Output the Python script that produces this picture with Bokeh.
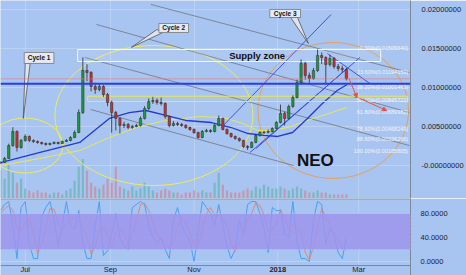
from bokeh.plotting import figure
from bokeh.layouts import column
from bokeh.models import (Range1d, FixedTicker, Span, Label, Arrow, NormalHead,
                          ColumnDataSource, BoxAnnotation, PrintfTickFormatter)
from bokeh.core.properties import value
from bokeh.embed import file_html
from bokeh.resources import INLINE

BG = "#a8c4f0"
FONT = "Liberation Sans"

# ---- candle data (3-day candles, x = days since 2017-07-01) ----
days = list(range(-18, 235, 3))
closes = [0.00038,0.00090,0.00256,0.00436,0.00231,0.00321,0.00372,0.00321,0.00308,0.00295,
          0.00282,0.00269,0.00282,0.00295,0.00282,0.00308,0.00321,0.00359,0.00423,0.00679,
          0.01218,0.01192,0.01013,0.00974,0.01013,0.00910,0.00808,0.00679,0.00603,0.00513,
          0.00526,0.00487,0.00500,0.00513,0.00603,0.00731,0.00820,0.00833,0.00808,0.00795,
          0.00628,0.00513,0.00538,0.00526,0.00513,0.00487,0.00462,0.00423,0.00359,0.00436,
          0.00449,0.00436,0.00513,0.00603,0.00462,0.00410,0.00372,0.00346,0.00321,0.00244,
          0.00231,0.00295,0.00385,0.00423,0.00426,0.00436,0.00474,0.00551,0.00667,0.00603,
          0.00756,0.00872,0.01064,0.01308,0.01154,0.01115,0.01218,0.01410,0.01385,0.01295,
          0.01372,0.01269,0.01244,0.01231,0.01110777]
highs = [0.00055,0.00110,0.00280,0.00490,0.00450,0.00340,0.00400,0.00385,0.00335,0.00320,
         0.00305,0.00295,0.00295,0.00310,0.00305,0.00320,0.00340,0.00375,0.00450,0.00720,
         0.01385,0.01300,0.01210,0.01060,0.01050,0.01030,0.00930,0.00830,0.00700,0.00620,
         0.00560,0.00545,0.00520,0.00535,0.00630,0.00760,0.00860,0.00880,0.00860,0.00870,
         0.00810,0.00640,0.00570,0.00560,0.00545,0.00530,0.00500,0.00475,0.00435,0.00455,
         0.00470,0.00465,0.00530,0.00640,0.00615,0.00475,0.00420,0.00385,0.00360,0.00330,
         0.00260,0.00310,0.00400,0.00440,0.00445,0.00460,0.00490,0.00570,0.00780,0.00690,
         0.00780,0.00900,0.01100,0.01360,0.01330,0.01190,0.01250,0.01487,0.01450,0.01400,
         0.01420,0.01390,0.01300,0.01280,0.01250]
lows = [0.00020,0.00032,0.00085,0.00240,0.00180,0.00215,0.00305,0.00300,0.00290,0.00280,
        0.00265,0.00255,0.00258,0.00272,0.00270,0.00275,0.00300,0.00310,0.00350,0.00415,
        0.00660,0.01080,0.00950,0.00920,0.00950,0.00880,0.00760,0.00420,0.00450,0.00410,
        0.00480,0.00465,0.00470,0.00490,0.00500,0.00590,0.00710,0.00790,0.00780,0.00770,
        0.00600,0.00490,0.00500,0.00505,0.00495,0.00470,0.00445,0.00405,0.00345,0.00350,
        0.00425,0.00420,0.00425,0.00500,0.00450,0.00395,0.00355,0.00330,0.00305,0.00225,
        0.00200,0.00222,0.00285,0.00370,0.00405,0.00410,0.00425,0.00465,0.00540,0.00513,
        0.00590,0.00740,0.00860,0.01040,0.01100,0.01060,0.01100,0.01200,0.01300,0.01040,
        0.01270,0.01240,0.01210,0.01190,0.01090]
first_open = 0.00030
volumes = [14,10,17,13,8,10,5,4,3,4,3,3,2,3,3,2,4,5,9,16,20,14,8,6,5,7,10,8,16,6,
           5,4,6,4,5,8,6,4,3,4,5,4,3,3,2,3,3,4,3,4,3,3,8,13,7,4,3,3,3,4,
           5,4,6,5,7,6,5,5,6,5,4,5,6,5,4,3,3,4,3,3,2,2,2,2,2]
stoch_k = [85,95,100,60,5,90,100,30,5,5,75,90,100,70,25,60,100,60,55,85,
           30,5,5,60,100,10,18,45,80,40,25,20,90,95,100,95,60,40,30,40,
           20,5,70,90,60,45,35,0,50,100,90,80,60,95,60,25,5,20,70,45,
           95,100,100,80,55,15,90,85,85,45,40,100,35,5,5,0,70,100,95,30,
           55,45,15,5,40]
stoch_d = [80,88,93,85,55,52,65,73,45,13,28,57,88,87,65,52,62,73,72,67,
           57,40,13,23,55,57,43,24,48,55,48,28,45,68,95,97,85,65,43,37,
           30,22,32,55,73,65,47,27,28,50,80,90,77,78,72,60,30,17,32,45,
           70,80,98,93,78,50,53,63,87,72,57,62,58,47,15,3,25,57,88,75,
           60,43,38,22,20]

# ---- axis ticks ----
month_ticks = [0, 62, 123, 184, 243]
month_labels = ["Jul", "Sep", "Nov", "2018", "Mar"]
month_bold = [False, False, False, True, False]
price_ticks = [-1e-12, 0.005, 0.01, 0.015, 0.02]
osc_ticks = [0, 40, 80]

# ---- drawings (day, price) ----
ma_days = [-18.0,10.8,39.7,50.5,61.3,75.8,88.0,102.5,116.9,135.6,150.1,162.3,173.9,184.0,194.8,205.6,216.5,227.3,234.5]
ma_vals = [0.00038,0.00167,0.00295,0.00449,0.00603,0.00679,0.00705,0.00641,0.00577,0.00551,0.00487,0.00410,0.00385,0.00372,0.00423,0.00603,0.00795,0.00962,0.01038]
wave_days = [-18.0,10.8,39.7,61.3,83.0,102.5,126.3,144.3,158.7,169.6,180.4,191.2,210.0,234.5]
wave_vals = [0.0,0.00090,0.00192,0.00359,0.00500,0.00577,0.00628,0.00615,0.00538,0.00449,0.00449,0.00487,0.00603,0.00744]
gray_x0 = [91.6, 51.9, 43.3, 47.6]
gray_y0 = [0.02064, 0.01808, 0.01385, 0.00718]
gray_x1 = [279.9, 279.9, 279.9, 195.5]
gray_y1 = [0.01192, 0.00679, 0.00256, 0.0]
blue_x0 = [142.9, 163.8, 168.1, 220.1]
blue_y0 = [0.00487, 0.00167, 0.00218, 0.01436]
blue_x1 = [222.9, 243.9, 234.5, 251.1]
blue_y1 = [0.01936, 0.01385, 0.01244, 0.01051]
ell_x = [0.0, 93.8]
ell_y = [0.00256, 0.00641]
ell_w = [54.8, 144.3]
ell_h = [0.00705, 0.01795]
cyc3 = dict(x=224.4, y=0.00705, w=109.7, h=0.01744)
supply = dict(left=38.2, right=259.0, top=0.01487, bottom=0.01333)
yellow_box = dict(left=45.5, right=278.5, top=0.00888, bottom=0.00820)
fib_pct = ["0.00%", "23.60%", "38.20%", "50.00%", "61.80%", "78.60%", "88.60%", "100.00%"]
fib_vals = [0.01505640, 0.01194159, 0.01001463, 0.00845722, 0.00689982, 0.00468249, 0.00336266, 0.00185805]
cyc_names = ["Cycle 1", "Cycle 2", "Cycle 3"]
cyc_left = [-0.7, 97.4, 178.2]
cyc_right = [20.9, 119.0, 200.6]
cyc_top = [0.01449, 0.01820, 0.02000]
cyc_bottom = [0.01308, 0.01705, 0.01897]
cyc_tx = [10.1, 108.2, 189.4]
cyc_ty = [0.01378, 0.01763, 0.01949]
ptr_xs = [[0.0, 3.6, -1.4], [96.0, 100.3, 77.2], [193.4, 198.4, 206.3]]
ptr_ys = [[0.01308, 0.01308, 0.00603], [0.01743, 0.01705, 0.01513], [0.01897, 0.01897, 0.01564]]
arrows = [(235.9, 0.01115, 241.7, 0.00872), (243.9, 0.00859, 263.3, 0.00705)]
last_price = 0.01110777
blue_level = 0.01048311

# ---- derived candle fields ----
opens = [first_open] + closes[:-1]
up = [c >= o for o, c in zip(opens, closes)]
src = ColumnDataSource(dict(
    x=days, o=opens, c=closes, h=highs, l=lows,
    top=[max(o, c) for o, c in zip(opens, closes)],
    bot=[min(o, c) for o, c in zip(opens, closes)],
    col=["#1f9a3a" if u else "#c8322f" for u in up],
    vcol=["#3fae8c" if u else "#e06666" for u in up],
    vol=volumes))

x_rng = Range1d(-18.0, 280.7)

p1 = figure(width=466, height=198, x_range=x_rng, y_range=Range1d(-0.00423, 0.02115),
            output_backend="svg", toolbar_location=None, y_axis_location="right",
            min_border_left=0, min_border_right=52, min_border_top=0, min_border_bottom=0,
            background_fill_color=BG, border_fill_color=BG, outline_line_color=None)
p1.xaxis.visible = False
p1.xgrid.ticker = FixedTicker(ticks=month_ticks)
p1.grid.grid_line_color = "#ffffff"
p1.grid.grid_line_alpha = 0.22
ya = p1.yaxis[0]
ya.ticker = FixedTicker(ticks=price_ticks)
ya.formatter = PrintfTickFormatter(format="%.8f")
ya.major_tick_line_color = None
ya.minor_tick_line_color = None
ya.axis_line_color = "#7d8898"
ya.major_label_text_font = FONT
ya.major_label_text_font_size = "7.5px"
ya.major_label_text_color = "#222222"
ya.major_label_standoff = 5
p1.extra_y_ranges = {"vol": Range1d(0, 100)}

# volume
p1.vbar(x="x", top="vol", bottom=0, width=1.6, source=src, y_range_name="vol",
        fill_color="vcol", line_color=None, fill_alpha=0.45)

# ellipses
p1.ellipse(x=ell_x, y=ell_y, width=ell_w, height=ell_h, fill_alpha=0,
           line_color="#ecec5a", line_width=1)
p1.ellipse(x=[cyc3["x"]], y=[cyc3["y"]], width=[cyc3["w"]], height=[cyc3["h"]],
           fill_alpha=0, line_color="#e2a15e", line_width=1)

# lines
p1.segment(x0=gray_x0, y0=gray_y0, x1=gray_x1, y1=gray_y1, line_color="#7c8698", line_width=1)
p1.line(wave_days, wave_vals, line_color="#e8e65a", line_width=1)
p1.segment(x0=blue_x0, y0=blue_y0, x1=blue_x1, y1=blue_y1, line_color="#3d52f0", line_width=1)
p1.line(ma_days, ma_vals, line_color="#2638d8", line_width=1.3)

p1.add_layout(Span(location=last_price, dimension="width", line_color="#e07a7a",
                   line_alpha=0.6, line_width=1))
p1.add_layout(Span(location=blue_level, dimension="width", line_color="#2a3cf0", line_width=2))

# rectangles
p1.quad(left=[supply["left"]], right=[supply["right"]], top=[supply["top"]], bottom=[supply["bottom"]],
        fill_color="#ffffff", fill_alpha=0.08, line_color="#f4f6fb", line_width=1)
p1.quad(left=[yellow_box["left"]], right=[yellow_box["right"]], top=[yellow_box["top"]],
        bottom=[yellow_box["bottom"]], fill_color="#e8e65a", fill_alpha=0.08,
        line_color="#e8e65a", line_width=1)

# candles
p1.segment(x0="x", y0="h", x1="x", y1="l", source=src, line_color="#2a2a2a", line_width=0.8)
p1.vbar(x="x", top="top", bottom="bot", width=1.7, source=src, fill_color="col",
        line_color="#2a2a2a", line_width=0.5)

# fib labels
fib_text = [f"{p}({v:.8f})" for p, v in zip(fib_pct, fib_vals)]
p1.text(x=[279.0] * len(fib_vals), y=fib_vals, text=fib_text, text_align="right",
        text_baseline="middle", text_font=value(FONT), text_font_size="5.5px",
        text_color="#f2f5fb")

# arrows
for (xs, ys, xe, ye) in arrows:
    p1.add_layout(Arrow(end=NormalHead(size=4, fill_color="#e4504a", line_color="#e4504a"),
                        x_start=xs, y_start=ys, x_end=xe, y_end=ye,
                        line_color="#e4504a", line_width=1))

# texts
p1.text(x=[148.6], y=[0.01410], text=["Supply zone"], text_align="left", text_baseline="middle",
        text_font=value(FONT), text_font_size="9.5px", text_font_style="bold", text_color="#111111")
p1.text(x=[211.4], y=[0.00064], text=["NEO"], text_align="center", text_baseline="middle",
        text_font=value(FONT), text_font_size="17px", text_font_style="bold", text_color="#111111")

# callouts
p1.patches(xs=ptr_xs, ys=ptr_ys, fill_color="#dde3ef", line_color="#555555", line_width=0.8)
p1.quad(left=cyc_left, right=cyc_right, top=cyc_top, bottom=cyc_bottom,
        fill_color="#e4e9f3", line_color="#777777", line_width=0.8)
p1.text(x=cyc_tx, y=cyc_ty, text=cyc_names, text_align="center", text_baseline="middle",
        text_font=value(FONT), text_font_size="6.5px", text_font_style="bold", text_color="#111111")

# axis price tags
def tag(xd, yd, txt, col):
    p1.add_layout(Label(x=xd, y=yd, text=txt, text_color="#ffffff", text_font=FONT,
                        text_font_size="8px", text_align="left", text_baseline="middle",
                        background_fill_color=col, padding=2))

tag(283.5, 0.01090, f"{last_price:.8f}", "#f01e1e")
tag(290.8, 0.00981, "01:00:55", "#f01e1e")
tag(283.5, 0.00872, f"{blue_level:.8f}", "#1b1bf5")

# ---- oscillator panel (x labels drawn inside its own frame) ----
osc_low, osc_high = -23.3, 105.0
osc_floor = -6.7      # bottom border line of the oscillator pane
label_row = -12.5     # month label row
p2 = figure(width=466, height=77, x_range=x_rng, y_range=Range1d(osc_low, osc_high),
            output_backend="svg", toolbar_location=None, y_axis_location="right",
            min_border_left=0, min_border_right=52, min_border_top=0, min_border_bottom=0,
            background_fill_color=BG, border_fill_color=BG, outline_line_color=None)
p2.xaxis.visible = False
p2.xgrid.visible = False
p2.ygrid.ticker = FixedTicker(ticks=osc_ticks)
p2.ygrid.grid_line_color = "#ffffff"
p2.ygrid.grid_line_alpha = 0.22
yb = p2.yaxis[0]
yb.ticker = FixedTicker(ticks=osc_ticks)
yb.formatter = PrintfTickFormatter(format="%.4f")
yb.major_tick_line_color = None
yb.minor_tick_line_color = None
yb.axis_line_color = "#7d8898"
yb.major_label_text_font = FONT
yb.major_label_text_font_size = "7.5px"
yb.major_label_text_color = "#222222"
yb.major_label_standoff = 4

p2.segment(x0=month_ticks, y0=[osc_floor] * len(month_ticks), x1=month_ticks,
           y1=[osc_high] * len(month_ticks), line_color="#ffffff", line_alpha=0.22)
p2.add_layout(BoxAnnotation(bottom=20, top=80, fill_color="#9d94ec", fill_alpha=0.85,
                            line_color="#c8c4f4", line_alpha=0.6, line_dash="2 2"))
p2.line(days, stoch_k, line_color="#4a9ff0", line_width=1)
p2.line(days, stoch_d, line_color="#e0857a", line_width=1)
p2.add_layout(Span(location=osc_high - 0.6, dimension="width", line_color="#7d8898", line_width=1))
p2.add_layout(Span(location=osc_floor, dimension="width", line_color="#7d8898", line_width=1))

for t, lab, b in zip(month_ticks, month_labels, month_bold):
    p2.text(x=[t], y=[label_row], text=[lab], text_align="center", text_baseline="middle",
            text_font=value(FONT), text_font_size="7.5px",
            text_font_style="bold" if b else "normal", text_color="#222222")

layout = column(p1, p2, spacing=0)
open("out.html", "w").write(file_html(layout, INLINE))
